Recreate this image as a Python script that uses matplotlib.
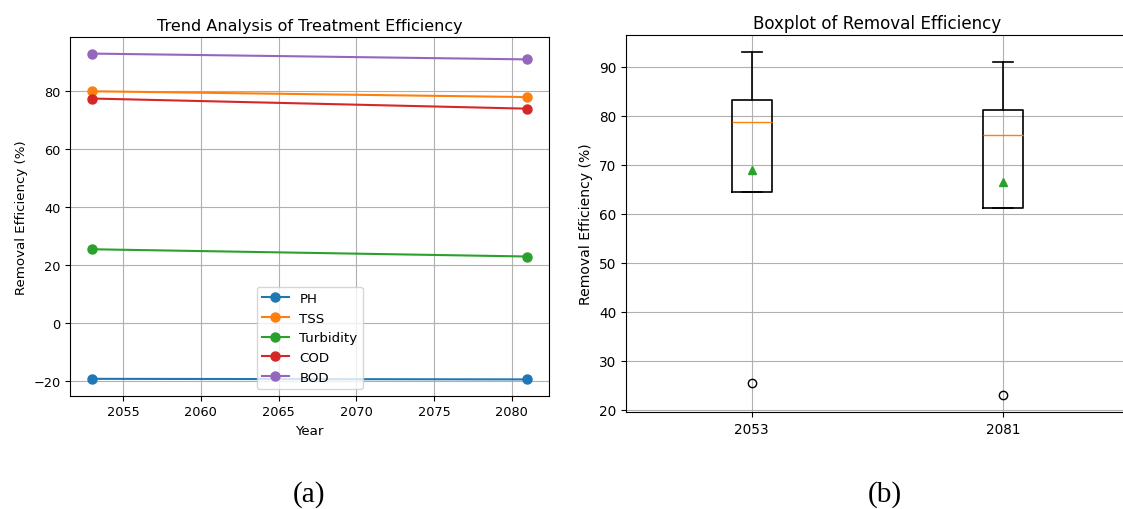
import matplotlib
matplotlib.use("Agg")
import matplotlib.pyplot as plt
import numpy as np

# Removal efficiency (%) per parameter for the two sampled years
years = [2053, 2081]
parameters = ["PH", "TSS", "Turbidity", "COD", "BOD"]
ph = [-19.2, -19.4]
tss = [80.0, 78.0]
turbidity = [25.5, 23.0]
cod = [77.5, 74.0]
bod = [93.0, 91.0]
series = [ph, tss, turbidity, cod, bod]

# Boxplot uses the parameters other than PH
box_params = ["TSS", "Turbidity", "COD", "BOD"]
box_labels = ["2053", "2081"]

W, H = 1123, 510
fig = plt.figure(figsize=(W / 100, H / 100), dpi=100)


def px_axes(left, top, right, bottom):
    return fig.add_axes([left / W, 1 - bottom / H, (right - left) / W, (bottom - top) / H])


# (a) trend lines
ax1 = px_axes(70.4, 38.3, 549, 396.7)
for name, vals in zip(parameters, series):
    ax1.plot(years, vals, marker="o", markersize=6.5, linewidth=1.5, label=name)
ax1.set_title("Trend Analysis of Treatment Efficiency", fontsize=11.5, pad=5)
ax1.set_xlabel("Year", fontsize=9.6)
ax1.set_ylabel("Removal Efficiency (%)", fontsize=9.6)
ax1.tick_params(labelsize=9.3)
ax1.grid(True)
ax1.legend(loc="lower center", fontsize=9.6)

# (b) boxplot of the two years
lookup = dict(zip(parameters, series))
box_data = [[lookup[p][i] for p in box_params] for i in range(len(years))]
ax2 = px_axes(626, 36, 1129, 413.3)
lw = dict(linewidth=1.2)
ax2.boxplot(box_data, positions=[1, 2], widths=0.16, showmeans=True,
            boxprops=lw, whiskerprops=lw, capprops=lw)
ax2.set_xticks([1, 2])
ax2.set_xticklabels(box_labels)
ax2.set_xlim(0.5, 2.5)
ax2.set_title("Boxplot of Removal Efficiency", fontsize=12.1, pad=5)
ax2.set_ylabel("Removal Efficiency (%)", fontsize=10.1)
ax2.tick_params(labelsize=9.8)
ax2.grid(True)

# Panel captions
fig.text(309 / W, 1 - 502 / H, "(a)", family="Liberation Serif", fontsize=21,
         ha="center", va="baseline")
fig.text(885 / W, 1 - 502 / H, "(b)", family="Liberation Serif", fontsize=21,
         ha="center", va="baseline")

fig.savefig("out.png", dpi=100)
